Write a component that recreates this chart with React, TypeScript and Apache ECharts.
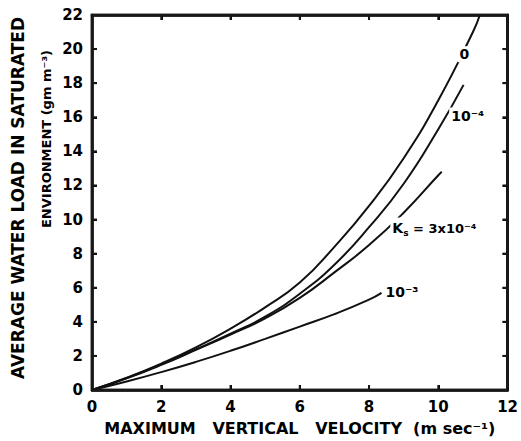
import React, { useEffect, useRef } from 'react';
import * as echarts from 'echarts';

// Maximum vertical velocity (m/s) and average water load (g/m^3) for each curve
const vel0 = [0, 1, 2, 3, 4, 5, 6, 7, 8, 9, 10, 11, 11.2];
const load0 = [0, 0.72, 1.55, 2.5, 3.6, 4.85, 6.3, 8.4, 10.8, 13.6, 17.0, 21.0, 22];

const vel1e4 = [0, 1, 2, 3, 4, 5, 6, 7, 8, 9, 10, 10.73];
const load1e4 = [0, 0.7, 1.5, 2.38, 3.3, 4.3, 5.65, 7.35, 9.55, 12.1, 15.3, 17.9];

const vel3e4 = [0, 1, 2, 3, 4, 5, 6, 7, 8, 9, 10, 10.1];
const load3e4 = [0, 0.68, 1.47, 2.35, 3.25, 4.2, 5.4, 6.9, 8.5, 10.4, 12.6, 12.8];

const vel1e3 = [0, 1, 2, 3, 4, 5, 6, 7, 8, 8.36];
const load1e3 = [0, 0.5, 1.05, 1.65, 2.3, 3.0, 3.72, 4.45, 5.3, 5.7];

const xMin = 0;
const xMax = 12;
const yMin = 0;
const yMax = 22;
const tickStep = 2;
const xTickVals = [2, 4, 6, 8, 10];
const yTickVals = [2, 4, 6, 8, 10, 12, 14, 16, 18, 20];

const xTitle = 'MAXIMUM   VERTICAL   VELOCITY  (m sec⁻¹)';
const yTitle1 = 'AVERAGE WATER LOAD IN SATURATED';
const yTitle2 = 'ENVIRONMENT (gm m⁻³)';

const FONT = 'DejaVu Sans';

function pairs(xs: number[], ys: number[]) {
  return xs.map((x, i) => [x, ys[i]]);
}

function labelPoint(coord: number[], formatter: string, position: any, rich?: any) {
  return {
    data: [{ coord }],
    symbol: 'circle',
    symbolSize: 1,
    itemStyle: { color: 'rgba(0,0,0,0)' },
    label: {
      show: true,
      position,
      distance: 0,
      formatter,
      color: '#000',
      fontFamily: FONT,
      fontWeight: 'bold',
      fontSize: 14,
      backgroundColor: '#fff',
      padding: [1, 2],
      rich,
    },
  };
}

function makeAxis(pos: string, min: number, max: number, withLabels: boolean) {
  return {
    type: 'value',
    min,
    max,
    interval: tickStep,
    position: pos,
    axisLine: { show: true, onZero: false, lineStyle: { color: 'black', width: 2.5 } },
    axisTick: { show: true, inside: true, length: 5, lineStyle: { color: 'black', width: 2 } },
    splitLine: { show: false },
    axisLabel: withLabels
      ? { show: true, color: '#000', fontFamily: FONT, fontWeight: 'bold', fontSize: 15, margin: 9 }
      : { show: false },
  };
}

// Frame and inward ticks on the four sides, placed through the cartesian scales
function renderFrame(params: any, api: any) {
  if (params.dataIndex !== 0) return null;
  const bl = api.coord([xMin, yMin]);
  const tr = api.coord([xMax, yMax]);
  const ink = 'rgb(24,24,24)';
  const children: any[] = [
    {
      type: 'polyline',
      shape: { points: [[bl[0], bl[1]], [bl[0], tr[1]], [tr[0], tr[1]], [tr[0], bl[1]], [bl[0], bl[1]]] },
      style: { stroke: ink, lineWidth: 2.5, fill: 'none' },
    },
  ];
  const L = 5;
  xTickVals.forEach((t) => {
    const p = api.coord([t, yMin]);
    children.push({ type: 'polyline', shape: { points: [[p[0], bl[1]], [p[0], bl[1] - L]] }, style: { stroke: ink, lineWidth: 2, fill: 'none' } });
    children.push({ type: 'polyline', shape: { points: [[p[0], tr[1]], [p[0], tr[1] + L]] }, style: { stroke: ink, lineWidth: 2, fill: 'none' } });
  });
  yTickVals.forEach((t) => {
    const p = api.coord([xMin, t]);
    children.push({ type: 'polyline', shape: { points: [[bl[0], p[1]], [bl[0] + L, p[1]]] }, style: { stroke: ink, lineWidth: 2, fill: 'none' } });
    children.push({ type: 'polyline', shape: { points: [[tr[0], p[1]], [tr[0] - L, p[1]]] }, style: { stroke: ink, lineWidth: 2, fill: 'none' } });
  });
  return { type: 'group', children };
}

export default function App() {
  const ref = useRef<HTMLDivElement>(null);
  useEffect(() => {
    if (!ref.current) return;
    const chart = echarts.init(ref.current, null, { renderer: 'svg' });
    const lineStyle = { color: '#111', width: 2 };
    const seriesBase = {
      type: 'line',
      smooth: 0.5,
      showSymbol: false,
      lineStyle,
      z: 2,
    };
    chart.setOption({
      animation: false,
      grid: {
        left: 92,
        right: 4,
        top: 15,
        bottom: 48,
        show: true,
        borderColor: '#222222',
        borderWidth: 2.5,
        backgroundColor: 'rgba(255,255,255,0)',
      },
      xAxis: [
        {
          ...makeAxis('bottom', xMin, xMax, true),
          name: xTitle,
          nameLocation: 'middle',
          nameGap: 30,
          nameTextStyle: { color: '#000', fontFamily: FONT, fontWeight: 'bold', fontSize: 16 },
        },
        makeAxis('top', xMin, xMax, false),
      ],
      yAxis: [makeAxis('left', yMin, yMax, true), makeAxis('right', yMin, yMax, false)],
      graphic: [
        {
          type: 'text',
          x: 18,
          y: 198,
          rotation: Math.PI / 2,
          style: {
            text: yTitle1,
            fill: '#000',
            font: `bold 17px "${FONT}"`,
            textAlign: 'center',
            textVerticalAlign: 'middle',
          },
        },
        {
          type: 'text',
          x: 46,
          y: 139,
          rotation: Math.PI / 2,
          style: {
            text: yTitle2,
            fill: '#000',
            font: `bold 13px "${FONT}"`,
            textAlign: 'center',
            textVerticalAlign: 'middle',
          },
        },
      ],
      series: [
        {
          type: 'custom',
          name: 'frame',
          coordinateSystem: 'cartesian2d',
          data: [[xMin, yMin]],
          renderItem: renderFrame,
          silent: true,
          clip: false,
          z: 5,
        },
        {
          ...seriesBase,
          name: '0',
          data: pairs(vel0, load0),
          markPoint: labelPoint([10.75, 19.7], '0', 'inside'),
        },
        {
          ...seriesBase,
          name: '1e-4',
          data: pairs(vel1e4, load1e4),
          markPoint: labelPoint([10.3, 16.1], '10⁻⁴', 'right'),
        },
        {
          ...seriesBase,
          name: '3e-4',
          data: pairs(vel3e4, load3e4),
          markPoint: labelPoint([8.6, 9.5], '{k|K}{s|s}{t| = 3x10⁻⁴}', 'right', {
            k: { fontFamily: FONT, fontWeight: 'bold', fontSize: 14, color: '#000' },
            s: { fontFamily: FONT, fontWeight: 'bold', fontSize: 9, color: '#000', padding: [10, 0, 0, 0] },
            t: { fontFamily: FONT, fontWeight: 'bold', fontSize: 13, color: '#000' },
          }),
        },
        {
          ...seriesBase,
          name: '1e-3',
          data: pairs(vel1e3, load1e3),
          markPoint: labelPoint([8.4, 5.75], '10⁻³', 'right'),
        },
      ],
    });
    return () => chart.dispose();
  }, []);
  return (
    <div
      ref={ref}
      style={{ position: 'fixed', left: 0, top: 0, width: 521, height: 441, background: '#fff' }}
    />
  );
}
